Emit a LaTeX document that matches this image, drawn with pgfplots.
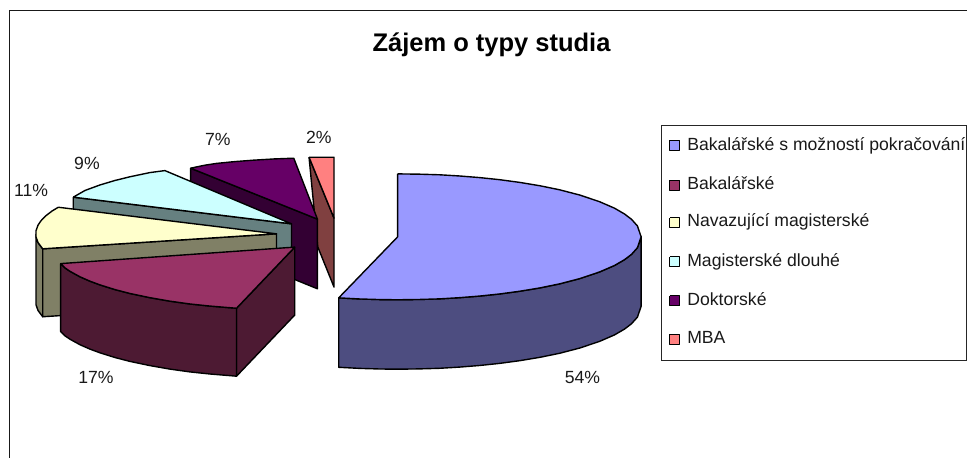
\documentclass[border=0pt]{standalone}
\usepackage{fontspec}
\setmainfont{Liberation Sans}
\usepackage{pgfplots}
\pgfplotsset{compat=1.18}
\definecolor{cblue}{HTML}{9999FF}
\definecolor{cblues}{HTML}{4D4D80}
\definecolor{cwine}{HTML}{993366}
\definecolor{cwines}{HTML}{4D1A33}
\definecolor{cyell}{HTML}{FFFFCC}
\definecolor{cyells}{HTML}{808066}
\definecolor{ccyan}{HTML}{CCFFFF}
\definecolor{ccyans}{HTML}{668080}
\definecolor{cpurp}{HTML}{660066}
\definecolor{cpurps}{HTML}{330033}
\definecolor{cmba}{HTML}{FF8080}
\definecolor{cmbas}{HTML}{804040}
\pgfplotsset{slice/.style={draw=black,line width=1.4pt,line join=round}}
\tikzset{lab/.style={font=\fontsize{17.7}{20}\selectfont,text=black!90}}
\begin{document}
\begin{tikzpicture}
\begin{axis}[
    width=968bp, height=458bp, scale only axis,
    xmin=0, xmax=968, ymin=0, ymax=458, y dir=reverse,
    hide axis, clip=false,
]
% keeps the page at full size
\addplot[draw=white,line width=0.1pt] coordinates {(0,0) (968,0) (968,458) (0,458) (0,0)};
% outer frame
\addplot[draw=black!90,line width=1.8pt] coordinates {(9.5,458) (9.5,10.5) (968,10.5)};
% MBA
\addplot[slice,fill=cmbas] coordinates {(309.3,157.3) (334.3,218.3) (334.3,287.3) (318,247) (309.3,157.3)};
\addplot[slice,fill=cmba] coordinates {(309.3,157.3) (334.3,157.3) (334.3,218.3) (309.3,157.3)};
% Doktorske
\addplot[slice,fill=cpurps] coordinates {(190.7,168.3) (317.7,219.3) (317.7,289) (190.7,237.3) (190.7,168.3)};
\addplot[slice,fill=cpurp] coordinates {(190.7,168.3) (205,165.3) (216.7,163.5) (235,161.7) (253.3,160.3) (275,159) (294,158.3) (317.7,219.3) (190.7,168.3)};
% Magisterske dlouhe
\addplot[slice,fill=ccyans] coordinates {(73.3,197.3) (291.7,224) (291.7,291.7) (73.3,265) (73.3,197.3)};
\addplot[slice,fill=ccyan] coordinates {(73.3,197.3) (85,190.6) (100,185.1) (115,180.6) (130,176.9) (150,172.7) (165,170.7) (291.7,224) (73.3,197.3)};
% Navazujici
\addplot[slice,fill=cyells] coordinates {(36,234) (36,237.1) (38,242.7) (42.7,249) (42.7,317) (38,310.7) (36,305.1) (36,234)};
\addplot[slice,fill=cyells] coordinates {(42.7,249) (276.7,234) (276.7,302) (42.7,317) (42.7,249)};
\addplot[slice,fill=cyell] coordinates {(58.3,207.4) (52,211.2) (46,215.8) (41,220.9) (38,225.3) (36,230.9) (36,237.1) (38,242.7) (42.7,249) (276.7,234) (58.3,207.4)};
% Bakalarske
\addplot[slice,fill=cwines] coordinates {(236.7,308.5) (295,247.3) (295,315.3) (236.7,376.5) (236.7,308.5)};
\addplot[slice,fill=cwines] coordinates {(60.7,263.8) (65,268.1) (70,271.5) (80,277) (90,281.4) (100,285.1) (115,289.8) (130,293.7) (150,297.9) (170,301.4) (190,304.2) (210,306.3) (236.7,308.5) (236.7,376.5) (210,374.3) (190,372.2) (170,369.4) (150,365.9) (130,361.7) (115,357.8) (100,353.1) (90,349.4) (80,345) (70,339.5) (65,336.1) (60.7,331.8) (60.7,263.8)};
\addplot[slice,fill=cwine] coordinates {(295,247.3) (60.7,263.8) (65,268.1) (70,271.5) (80,277) (90,281.4) (100,285.1) (115,289.8) (130,293.7) (150,297.9) (170,301.4) (190,304.2) (210,306.3) (236.7,308.5) (295,247.3)};
% Bakalarske s moznosti
\addplot[slice,fill=cblues] coordinates {(339,298.1) (360,299.2) (380,299.8) (398,300) (420,299.7) (440,299.1) (460,297.9) (480,296.3) (500,294.2) (520,291.5) (540,288.2) (560,284.1) (580,278.9) (600,272.2) (615,265.7) (625,259.9) (632,254.6) (638,247.9) (641.7,237) (641.7,306.5) (638,317.4) (632,324.1) (625,329.4) (615,335.2) (600,341.7) (580,348.4) (560,353.6) (540,357.7) (520,361) (500,363.7) (480,365.8) (460,367.4) (440,368.6) (420,369.2) (398,369.5) (380,369.3) (360,368.7) (339,367.6) (339,298.1)};
\addplot[slice,fill=cblue] coordinates {(398,174) (420,174.3) (440,174.9) (460,176.1) (480,177.7) (500,179.8) (520,182.5) (540,185.8) (560,189.9) (580,195.1) (600,201.8) (615,208.3) (625,214.1) (632,219.4) (638,226.1) (641.7,237) (638,247.9) (632,254.6) (625,259.9) (615,265.7) (600,272.2) (580,278.9) (560,284.1) (540,288.2) (520,291.5) (500,294.2) (480,296.3) (460,297.9) (440,299.1) (420,299.7) (398,300) (380,299.8) (360,299.2) (339,298.1) (398,237) (398,174)};
% legend box
\addplot[draw=black!85,line width=1pt] coordinates {(662.5,125.5) (967,125.5) (967,361) (662.5,361) (662.5,125.5)};
\addplot[slice,line width=1.1pt,fill=cblue] coordinates {(670.5,140.5) (680.5,140.5) (680.5,150.5) (670.5,150.5) (670.5,140.5)};
\addplot[slice,line width=1.1pt,fill=cwine] coordinates {(670.5,180.5) (680.5,180.5) (680.5,190.5) (670.5,190.5) (670.5,180.5)};
\addplot[slice,line width=1.1pt,fill=cyell] coordinates {(670.5,218) (680.5,218) (680.5,228) (670.5,228) (670.5,218)};
\addplot[slice,line width=1.1pt,fill=ccyan] coordinates {(670.5,257) (680.5,257) (680.5,267) (670.5,267) (670.5,257)};
\addplot[slice,line width=1.1pt,fill=cpurp] coordinates {(670.5,296) (680.5,296) (680.5,306) (670.5,306) (670.5,296)};
\addplot[slice,line width=1.1pt,fill=cmba] coordinates {(670.5,334.5) (680.5,334.5) (680.5,344.5) (670.5,344.5) (670.5,334.5)};
% legend text
\node[lab,anchor=base west,inner sep=0pt] at (axis cs:687.7,150.7) {Bakalářské s možností pokračování};
\node[lab,anchor=base west,inner sep=0pt] at (axis cs:687.7,190) {Bakalářské};
\node[lab,anchor=base west,inner sep=0pt] at (axis cs:687.7,227) {Navazující magisterské};
\node[lab,anchor=base west,inner sep=0pt] at (axis cs:687.7,266.7) {Magisterské dlouhé};
\node[lab,anchor=base west,inner sep=0pt] at (axis cs:687.7,306) {Doktorské};
\node[lab,anchor=base west,inner sep=0pt] at (axis cs:687.7,343.5) {MBA};
% percentages
\node[lab] at (axis cs:583,378) {54\%};
\node[lab] at (axis cs:96,378) {17\%};
\node[lab] at (axis cs:31,191) {11\%};
\node[lab] at (axis cs:87,164) {9\%};
\node[lab] at (axis cs:218,140) {7\%};
\node[lab] at (axis cs:319,137) {2\%};
% title
\node[font=\fontsize{25.6}{28}\selectfont\bfseries] at (axis cs:492,44.5) {Zájem o typy studia};
\end{axis}
\end{tikzpicture}
\end{document}
